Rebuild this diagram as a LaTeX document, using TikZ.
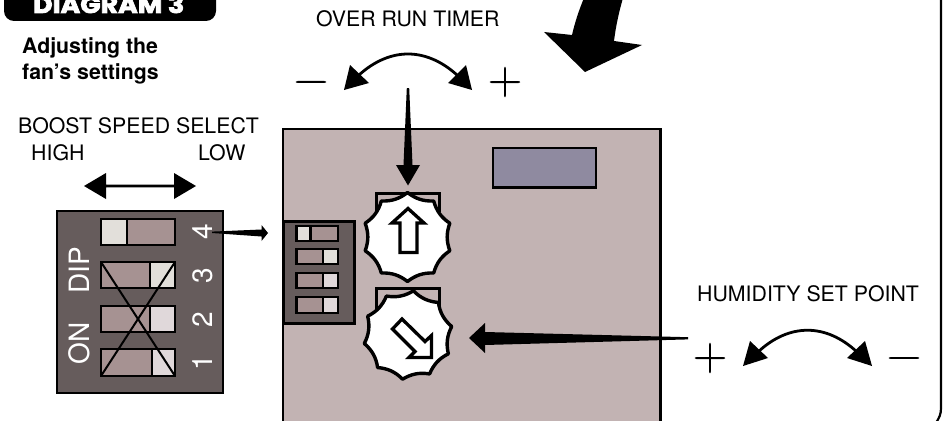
\documentclass[tikz,border=0pt]{standalone}
\usepackage{fontspec}
\usepackage{graphicx}
\newfontfamily\hv{TeX Gyre Heros}
\newfontfamily\pop[BoldFeatures={FakeBold=3}]{Poppins}
\newfontfamily\lmsign[FakeBold=0.6]{Latin Modern Roman}
\definecolor{boardc}{HTML}{C2B3B3}
\definecolor{dipc}{HTML}{665C5C}
\definecolor{swc}{HTML}{A69292}
\definecolor{lightA}{HTML}{E2DFDA}
\definecolor{lightB}{HTML}{E0D8DA}
\definecolor{dispc}{HTML}{8F8AA0}
\tikzset{
  lab/.style={anchor=base west,inner sep=0pt,font=\hv\fontsize{21.3}{21.3}\selectfont,text=black},
  boldlab/.style={anchor=base west,inner sep=0pt,font=\hv\bfseries\fontsize{21.3}{21.3}\selectfont,text=black},
  diplab/.style={anchor=center,inner sep=0pt,rotate=90,text=white,font=\hv\fontsize{28}{28}\selectfont},
  sign/.style={anchor=base,inner sep=0pt,font=\lmsign\fontsize{48}{48}\selectfont},
  solidblk/.style={fill=black,draw=none},
  outline/.style={draw=black,line width=3.3pt,line join=miter},
  curveline/.style={draw=black,line width=2.8pt}
}
\newcommand{\dipswitch}[7]{% x1,y1,x2,y2,divider,left colour,right colour
  \fill[#6] (#1,#2) rectangle (#5,#4);
  \fill[#7] (#5,#2) rectangle (#3,#4);
  \draw[black,line width=2.6pt] (#1,#2) rectangle (#3,#4);
  \draw[black,line width=2.6pt] (#5,#2) -- (#5,#4);
}
\newcommand{\knobshape}[3]{% cx,cy,rotation
  \begin{scope}[shift={(#1,#2)}]
    \draw[black,fill=white,line width=3.4pt,line join=round]
      (#3-90:44.5) \foreach \i in {0,...,9}{
        .. controls (#3-90+\i*36+12:39) and (#3-90+\i*36+24:39) .. (#3-90+\i*36+36:44.5)
      } -- cycle;
  \end{scope}
}
\begin{document}
\begin{tikzpicture}[x=1pt,y=-1pt]
\useasboundingbox (0,0) rectangle (944,420);
\clip (0,0) rectangle (944,420);
% outer frame
\draw[black,line width=2.2pt] (941,-5) -- (941,408) .. controls (941,414) and (939.5,418) .. (935,424);
% title tab
\fill[black] (4,-10) -- (216,-10) -- (216,11) arc[start angle=0,end angle=90,radius=10] -- (14,21) arc[start angle=90,end angle=180,radius=10] -- cycle;
\node[anchor=base west,inner sep=0pt,text=white] (title) at (33,13) {\resizebox{151pt}{18pt}{\pop\bfseries DIAGRAM 3}};
\node[boldlab] (adj1) at (22,54) {Adjusting the};
\node[boldlab] (adj2) at (22,79) {fan’s settings};
% board
\draw[black,fill=boardc,line width=2.4pt] (283,429) -- (283,129) -- (660.5,129) -- (660.5,429);
\draw[black,fill=dispc,line width=2.2pt] (493,148) rectangle (596,187.5);
% large DIP
\draw[black,fill=dipc,line width=2.4pt] (57,211) rectangle (223,393);
\dipswitch{101}{219}{175}{245}{127}{lightA}{swc}
\dipswitch{101}{262}{175}{288}{150}{swc}{lightA}
\dipswitch{101}{306}{175}{332}{150}{swc}{lightB}
\dipswitch{101}{349}{175}{376}{152}{swc}{lightB}
\draw[black,line width=2pt] (101,262) -- (175,376);
\draw[black,line width=2pt] (175,262) -- (101,376);
\node[diplab] (n4) at (203,232) {4};
\node[diplab] (n3) at (203,276) {3};
\node[diplab] (n2) at (203,320) {2};
\node[diplab] (n1) at (203,363) {1};
\node[diplab] (dip) at (79,270) {DIP};
\node[diplab] (on) at (79,343) {ON};
% small DIP
\draw[black,fill=dipc,line width=3pt] (283,221) rectangle (354,323);
\dipswitch{296.5}{226}{338}{241}{310.5}{lightA}{swc}
\dipswitch{296.5}{249}{338}{264}{323}{swc}{lightA}
\dipswitch{296.5}{273}{338}{288}{323}{swc}{lightB}
\dipswitch{296.5}{297}{338}{313}{323}{swc}{lightB}
% brackets and knobs
\draw[black,fill=boardc,line width=3pt] (376,212) -- (376,193.5) -- (439,193.5) -- (439,212);
\draw[black,fill=boardc,line width=3pt] (376,312) -- (376,288.5) -- (439,288.5) -- (439,312);
\knobshape{407.5}{237}{0}
\knobshape{408}{335}{7}
\draw[outline,fill=white] (408,208.5) -- (424,223) -- (417,223) -- (417,252.5) -- (400,252.5) -- (400,223) -- (392,223) -- cycle;
\draw[outline,fill=white] (392.5,329) -- (402,319) -- (425,341.5) -- (431.5,335.5) -- (431.5,357.5) -- (409,357.5) -- (415,351.5) -- cycle;
% tapered arrows
\fill[solidblk] (212,231.6) -- (261.5,229.5) -- (261.5,225) -- (268,233) -- (261.5,241) -- (261.5,236.5) -- (212,233) -- cycle;
\fill[solidblk] (406.8,88) -- (409.2,88) -- (412.5,165) -- (420,165) -- (408,185.5) -- (396,165) -- (403.5,165) -- cycle;
\fill[solidblk] (688,337.2) -- (688,339.4) -- (485,345) -- (485,353) -- (469,338) -- (485,323) -- (485,332) -- cycle;
% double arrow
\fill[solidblk] (84,186) -- (106,173) -- (106,184.6) -- (174,184.6) -- (174,173) -- (196,186) -- (174,199) -- (174,187.4) -- (106,187.4) -- (106,199) -- cycle;
% big arrow
\fill[solidblk] (584,-2) .. controls (579,10) and (575,22) .. (572,35) -- (544,32) -- (585,72) -- (642,45) -- (614,41) .. controls (616,25) and (619,12) .. (623,-2) -- cycle;
% over run timer
\draw[curveline] (359,75) .. controls (390,47) and (426,47) .. (457,75);
\fill[solidblk] (344,90) -- (350,65) -- (369,83) -- cycle;
\fill[solidblk] (472,90) -- (466,65) -- (448,83) -- cycle;
% humidity
\draw[curveline] (758,352) .. controls (789,323) and (826,323) .. (857,352);
\fill[solidblk] (743,366) -- (750,341) -- (768,358) -- cycle;
\fill[solidblk] (872,366) -- (865,341) -- (847,358) -- cycle;
% labels
\node[lab] (ort) at (316,27) {OVER RUN TIMER};
\node[lab] (bss) at (18,133) {BOOST SPEED SELECT};
\node[lab] (high) at (31,160) {HIGH};
\node[lab] (low) at (198,160) {LOW};
\node[lab] (hsp) at (697,301) {HUMIDITY SET POINT};
\node[sign] (tminus) at (311,94) {−};
\node[sign] (tplus) at (505,94) {+};
\node[sign] (hplus) at (710,370) {+};
\node[sign] (hminus) at (904,370) {−};
\end{tikzpicture}
\end{document}
